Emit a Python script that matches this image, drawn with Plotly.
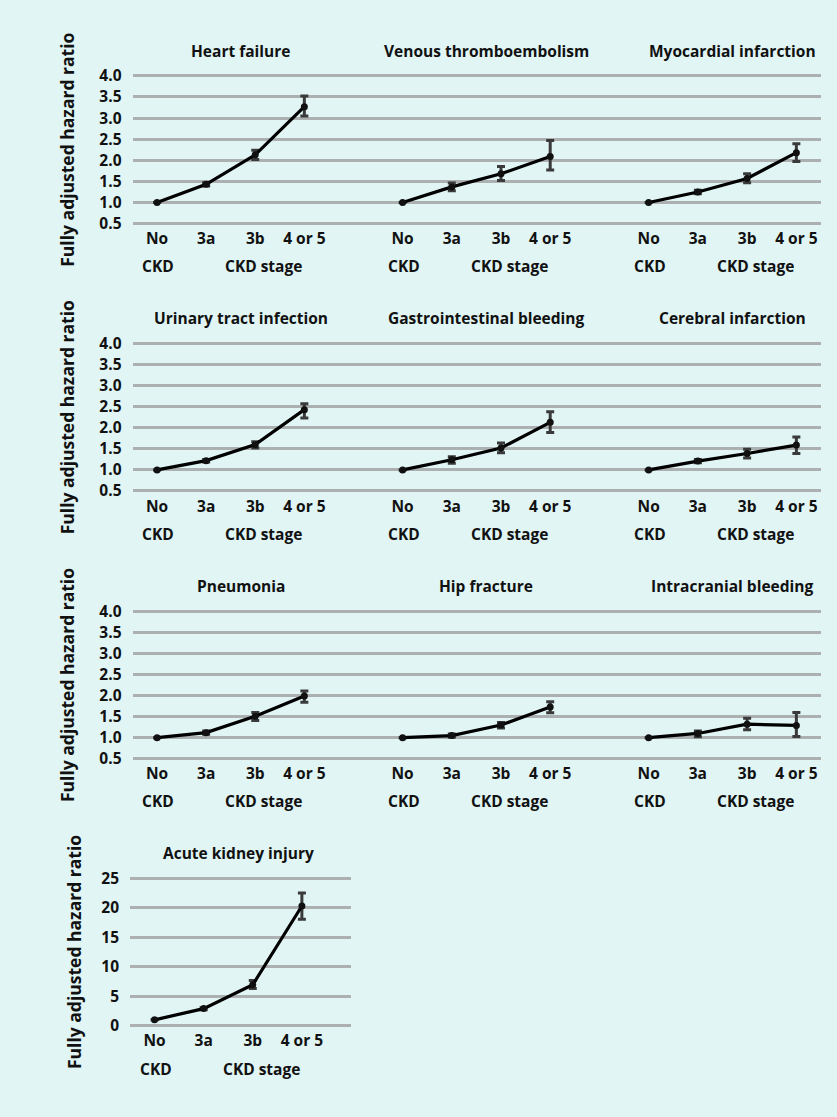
import plotly.graph_objects as go

# ---------------- data ----------------
stages = ["No", "3a", "3b", "4 or 5"]
stage_x = [0, 1, 2, 3]

outcomes = ["Heart failure", "Venous thromboembolism", "Myocardial infarction",
            "Urinary tract infection", "Gastrointestinal bleeding", "Cerebral infarction",
            "Pneumonia", "Hip fracture", "Intracranial bleeding",
            "Acute kidney injury"]

hf_hr = [1.0, 1.43, 2.13, 3.27]
hf_lo = [None, 1.39, 2.02, 3.05]
hf_hi = [None, 1.47, 2.24, 3.52]

vte_hr = [1.0, 1.37, 1.68, 2.09]
vte_lo = [None, 1.28, 1.52, 1.77]
vte_hi = [None, 1.46, 1.85, 2.47]

mi_hr = [1.0, 1.25, 1.57, 2.18]
mi_lo = [None, 1.21, 1.47, 1.97]
mi_hi = [None, 1.29, 1.68, 2.39]

uti_hr = [1.0, 1.22, 1.60, 2.43]
uti_lo = [None, 1.19, 1.52, 2.23]
uti_hi = [None, 1.25, 1.67, 2.57]

gib_hr = [1.0, 1.24, 1.52, 2.13]
gib_lo = [None, 1.16, 1.41, 1.89]
gib_hi = [None, 1.31, 1.64, 2.38]

ci_hr = [1.0, 1.21, 1.39, 1.59]
ci_lo = [None, 1.17, 1.28, 1.39]
ci_hi = [None, 1.25, 1.49, 1.78]

pn_hr = [1.0, 1.12, 1.51, 1.99]
pn_lo = [None, 1.08, 1.41, 1.84]
pn_hi = [None, 1.16, 1.60, 2.11]

hip_hr = [1.0, 1.05, 1.30, 1.73]
hip_lo = [None, 1.01, 1.23, 1.59]
hip_hi = [None, 1.09, 1.36, 1.85]

icb_hr = [1.0, 1.10, 1.32, 1.29]
icb_lo = [None, 1.02, 1.19, 1.03]
icb_hi = [None, 1.16, 1.46, 1.60]

aki_hr = [1.0, 2.9, 6.94, 20.3]
aki_lo = [None, 2.7, 6.33, 18.05]
aki_hi = [None, 3.1, 7.67, 22.5]

hr_sets = [hf_hr, vte_hr, mi_hr, uti_hr, gib_hr, ci_hr, pn_hr, hip_hr, icb_hr, aki_hr]
lo_sets = [hf_lo, vte_lo, mi_lo, uti_lo, gib_lo, ci_lo, pn_lo, hip_lo, icb_lo, aki_lo]
hi_sets = [hf_hi, vte_hi, mi_hi, uti_hi, gib_hi, ci_hi, pn_hi, hip_hi, icb_hi, aki_hi]

ytick_small = [0.5, 1.0, 1.5, 2.0, 2.5, 3.0, 3.5, 4.0]
ytick_large = [0, 5, 10, 15, 20, 25]

# ---------------- layout geometry ----------------
W, H = 837, 1117
BG = "#e0f5f4"
GRID = "#adb0b0"
FONT = "Open Sans"
TXT = "#111111"
FS = 15.5
FS_YT = 17.5

def px(x):
    return x / W

def py(y):
    return 1 - y / H

# rows: pixel y of top gridline and bottom gridline
row_px = [(67, 217.3), (339.3, 489.3), (611.7, 761.7), (883.3, 1033.3)]
title_y = [42, 313, 586, 858]
tick_y2 = [260, 533, 805, 1077]
col_px = [(132.5, 378), (378, 624), (624, 821)]
col_rng = [(-0.5, 4.5), (-0.5, 4.5), (-0.5, 3.5)]

fig = go.Figure()
annotations = []

for i, name in enumerate(outcomes):
    r, c = divmod(i, 3)
    k = i + 1
    xa = "x" if k == 1 else f"x{k}"
    ya = "y" if k == 1 else f"y{k}"
    if r == 3:
        xd, xr = (130, 351), (-0.5, 4.0)
        ticks = ytick_large
        ymin, ymax, pad = 0, 25, 0.3
        fmt = "d"
    else:
        xd, xr = col_px[c], col_rng[c]
        ticks = ytick_small
        ymin, ymax, pad = 0.5, 4.0, 0.05
        fmt = ".1f"
    top, bot = row_px[r]
    ppu = (bot - top) / (ymax - ymin)
    dtop, dbot = top - pad * ppu, bot + pad * ppu

    hr, lo, hi = hr_sets[i], lo_sets[i], hi_sets[i]
    plus = [None if h is None else h - v for h, v in zip(hi, hr)]
    minus = [None if l is None else v - l for l, v in zip(lo, hr)]

    fig.add_trace(go.Scatter(
        x=stage_x, y=hr, mode="lines+markers", xaxis=xa, yaxis=ya,
        line=dict(color="#000000", width=3.2),
        marker=dict(symbol="circle", size=7, color="#111111"),
        error_y=dict(type="data", symmetric=False, array=plus, arrayminus=minus,
                     color="#3a3a3a", thickness=3, width=4),
        showlegend=False, hoverinfo="skip"))

    xkey = "xaxis" if k == 1 else f"xaxis{k}"
    ykey = "yaxis" if k == 1 else f"yaxis{k}"
    fig.layout[xkey] = dict(
        domain=[px(xd[0]), px(xd[1])], range=list(xr), anchor=ya,
        tickmode="array", tickvals=stage_x, ticktext=stages,
        showgrid=False, zeroline=False, showline=False, ticks="",
        ticklabelstandoff=2,
        tickfont=dict(family=FONT, size=FS, color=TXT, weight=700),
        fixedrange=True)
    fig.layout[ykey] = dict(
        domain=[py(dbot), py(dtop)], range=[ymin - pad, ymax + pad], anchor=xa,
        tickmode="array", tickvals=ticks, tickformat=fmt,
        showticklabels=(c == 0), showgrid=True, gridcolor=GRID, gridwidth=3,
        zeroline=False, showline=False, ticks="", ticklabelstandoff=10,
        tickfont=dict(family=FONT, size=FS, color=TXT, weight=700),
        fixedrange=True)

    # panel title
    annotations.append(dict(
        text=name, xref=xa, yref="paper", x=1.7, y=py(title_y[r]),
        xanchor="center", yanchor="middle", showarrow=False,
        font=dict(family=FONT, size=FS, color=TXT, weight=700)))
    # second line of the x axis labels
    annotations.append(dict(
        text="CKD", xref=xa, yref="paper", x=0.02, y=py(tick_y2[r]),
        xanchor="center", yanchor="middle", showarrow=False,
        font=dict(family=FONT, size=FS, color=TXT, weight=700)))
    annotations.append(dict(
        text="CKD stage", xref=xa, yref="paper", x=2.17, y=py(tick_y2[r]),
        xanchor="center", yanchor="middle", showarrow=False,
        font=dict(family=FONT, size=FS, color=TXT, weight=700)))
    # y axis title
    if c == 0:
        annotations.append(dict(
            text="Fully adjusted hazard ratio", xref="paper", yref="paper",
            x=px(74 if r == 3 else 67), y=(py(dbot) + py(dtop)) / 2,
            textangle=-90, xanchor="center", yanchor="middle", showarrow=False,
            font=dict(family=FONT, size=FS_YT, color=TXT, weight=700)))

fig.update_layout(
    width=W, height=H, margin=dict(l=0, r=0, t=0, b=0),
    paper_bgcolor=BG, plot_bgcolor=BG,
    annotations=annotations, showlegend=False)

fig.write_html("out.html", config={"displayModeBar": False},
               post_script="document.body.style.margin='0';document.body.style.overflow='hidden';")
